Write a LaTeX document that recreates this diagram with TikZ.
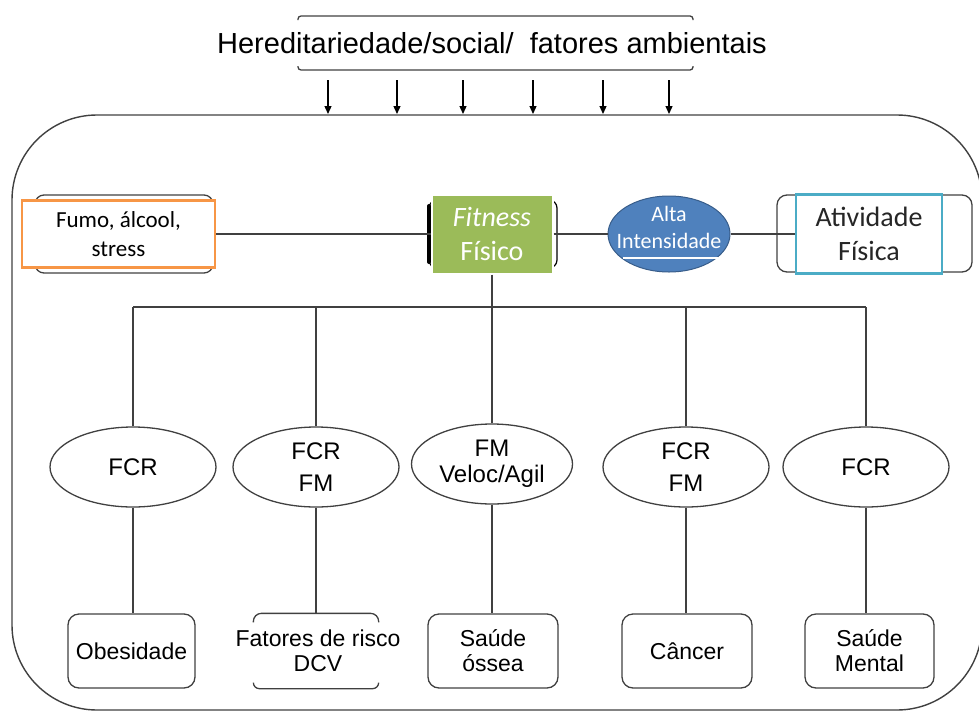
\documentclass[tikz,border=0pt]{standalone}
\usepackage{fontspec}
\setmainfont{Liberation Sans}
\newfontfamily\carlito{Carlito}
\usetikzlibrary{arrows.meta}
\usetikzlibrary{shapes, shadows}
\usetikzlibrary{positioning}

\definecolor{fitgreen}{HTML}{9BBB59}
\definecolor{altablue}{HTML}{4F81BD}
\definecolor{altaedge}{HTML}{385D8A}
\definecolor{fumoorange}{HTML}{F79646}
\definecolor{ativcyan}{HTML}{4BACC6}
\definecolor{linegray}{HTML}{404040}

\begin{document}
\begin{tikzpicture}[x=1pt, y=-1pt,
    link/.style={draw=linegray, line width=1.3pt},
    bracket/.style={draw=linegray, line width=1.3pt, rounded corners=9pt},
    fcr/.style={ellipse, draw=linegray, line width=1.3pt, fill=white,
        minimum width=166pt, minimum height=80pt, inner sep=0pt, align=center,
        font=\fontsize{24}{32}\selectfont},
    outcome/.style={draw=linegray, line width=1.3pt, rounded corners=11pt,
        minimum width=129pt, minimum height=74pt, inner sep=0pt, align=center,
        font=\fontsize{23}{25}\selectfont}]
    \useasboundingbox (0,0) rectangle (979,712);

    % big frame and the header
    \draw[linegray, line width=1.4pt, rounded corners=85pt] (12,115) rectangle (982,710);
    \draw[bracket, rounded corners=3pt] (298,20) -- (298,16) -- (693,16) -- (693,20);
    \draw[bracket, rounded corners=3pt] (298,66) -- (298,70) -- (693,70) -- (693,66);
    \node (hdr) at (492,43) {\fontsize{29}{32}\selectfont Hereditariedade/social/\ \ fatores ambientais};
    \foreach \ax in {328,397,463,533,603,669}
        \draw[line width=1.3pt, -{Triangle[length=8pt,width=7pt]}] (\ax,80) -- (\ax,114);

    % top row
    \draw[bracket] (35,195) rectangle (213,273);
    \node[draw=fumoorange, fill=white, line width=2.5pt, minimum width=193pt, minimum height=67pt,
        align=center, font=\carlito\fontsize{23}{29}\selectfont] (fumo) at (118.5,234) {Fumo, álcool,\\stress};

    \draw[line width=1.2pt, rounded corners=8pt] (429,200) rectangle (557,268);
    \draw[line width=4pt, line cap=round] (429,206) -- (429,262);
    \node[fill=fitgreen, draw=white, line width=2pt, minimum width=121pt, minimum height=79pt,
        drop shadow={opacity=0.25, shadow xshift=1.5pt, shadow yshift=-1.5pt},
        text=white, align=center, font=\carlito\fontsize{28}{34}\selectfont] (fit) at (492,234) {\textit{Fitness}\\Físico};

    \node[ellipse, fill=altablue, draw=altaedge, line width=1pt, minimum width=122pt,
        minimum height=76pt, inner sep=0pt] (alta) at (669,234) {};
    \draw[white, line width=1.5pt] (623,258) -- (718,258);
    \node[text=white, align=center, font=\carlito\fontsize{22}{27}\selectfont] (altatxt)
        at ([yshift=7pt]alta.center) {Alta\\Intensidade};

    \draw[bracket, rounded corners=10pt] (777,195) rectangle (972,272);
    \node[draw=ativcyan, fill=white, line width=2.5pt, minimum width=146pt, minimum height=79pt,
        text=black!85, align=center, font=\carlito\fontsize{28}{34}\selectfont] (ativ) at (869,234) {Atividade\\Física};

    \draw[link] (fumo.east) -- (fit.west);
    \draw[link] (fit.east) -- (alta.west);
    \draw[link] (alta.east) -- (ativ.west);

    % fitness components
    \node[fcr] (e1) at (133,467) {FCR};
    \node[fcr] (e2) at (316,467) {FCR\\FM};
    \node[fcr, minimum width=161pt, font=\fontsize{24}{26}\selectfont] (e3) at (492,464) {FM\\Veloc/Agil};
    \node[fcr] (e4) at (686,467) {FCR\\FM};
    \node[fcr] (e5) at (866,467) {FCR};

    % health outcomes
    \node[outcome, minimum width=127pt] (o1) at (131.5,651) {Obesidade};
    \node[outcome, draw=none, minimum width=124pt] (o2) at (316,651) {};
    \node[font=\fontsize{23}{25}\selectfont, align=center] (o2txt) at (318,651) {Fatores de risco\\DCV};
    \node[outcome, minimum width=130pt] (o3) at (493,651) {Saúde\\óssea};
    \node[outcome, minimum width=130pt] (o4) at (687,651) {Câncer};
    \node[outcome] (o5) at (869.5,651) {Saúde\\Mental};
    \draw[link, rounded corners=8pt] ([yshift=-9pt]o2.north west) -- (o2.north west) -- (o2.north east) -- ([yshift=-9pt]o2.north east);
    \draw[link, rounded corners=6pt] ([yshift=6pt]o2.south west) -- (o2.south west) -- (o2.south east) -- ([yshift=6pt]o2.south east);

    \coordinate (bar) at (0,307);
    \draw[link] (fit.south) -- (fit.south |- bar);
    \draw[link] (e1.north |- bar) -- (e5.north |- bar);
    \foreach \i in {1,...,5} {
        \draw[link] (e\i.north) -- (e\i.north |- bar);
        \draw[link] (e\i.south) -- (e\i.south |- o\i.north);
    }
\end{tikzpicture}
\end{document}
